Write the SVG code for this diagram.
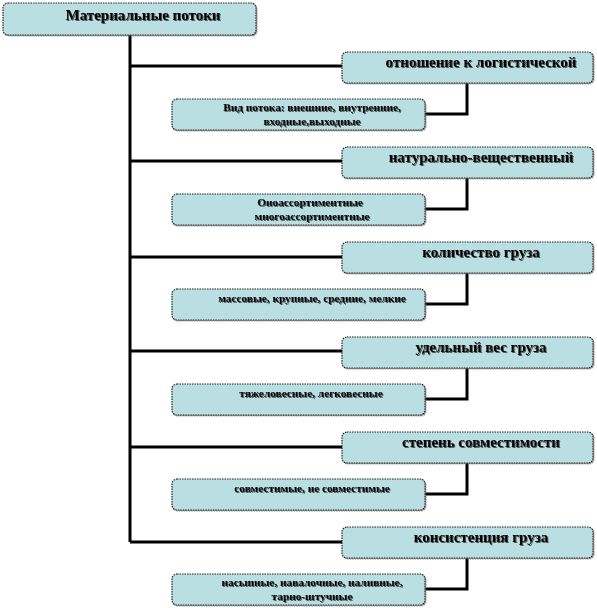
<svg xmlns="http://www.w3.org/2000/svg" width="597" height="608" viewBox="0 0 597 608">
<defs>
<filter id="ts" x="-5%" y="-20%" width="110%" height="140%">
<feDropShadow dx="1" dy="1" stdDeviation="0.6" flood-color="#444" flood-opacity="0.9"/>
</filter>
<filter id="bs" x="-5%" y="-10%" width="110%" height="130%">
<feDropShadow dx="1" dy="1" stdDeviation="0.5" flood-color="#666" flood-opacity="0.7"/>
</filter>
</defs>
<style>
.box{fill:#b9dfe2;stroke:#222;stroke-width:1.2;stroke-dasharray:1.5 1;filter:url(#bs)}
.c{fill:none;stroke:#000;stroke-width:3}
.t{font-family:"Liberation Serif","Times New Roman",serif;font-weight:bold;fill:#000;text-anchor:middle;filter:url(#ts)}
.h{font-size:15px}
.m{font-size:15px}
.s{font-size:11.3px}
</style>
<g id="connectors">
<path class="c" d="M130 35 V542"/>
<path class="c" d="M130 66 H342"/>
<path class="c" d="M130 161 H342"/>
<path class="c" d="M130 257 H342"/>
<path class="c" d="M130 351 H342"/>
<path class="c" d="M130 447 H342"/>
<path class="c" d="M130 542 H342"/>
<path class="c" d="M467 83 V114 H425"/>
<path class="c" d="M467 178 V209 H425"/>
<path class="c" d="M467 273 V304 H425"/>
<path class="c" d="M467 368 V399 H425"/>
<path class="c" d="M467 463 V494 H425"/>
<path class="c" d="M467 558 V589 H425"/>
</g>
<g id="root">
<rect class="box" x="3" y="3" width="253" height="32" rx="5"/>
<text class="t h" x="143" y="20">Материальные потоки</text>
</g>
<g id="n1">
<rect class="box" x="342" y="52" width="251" height="31" rx="5"/>
<text class="t m" x="481" y="67">отношение к логистической</text>
</g>
<g id="s1">
<rect class="box" x="172" y="99" width="253" height="31" rx="5"/>
<text class="t s" x="312" y="111">Вид потока: внешние, внутренние,</text>
<text class="t s" x="312" y="125">входные,выходные</text>
</g>
<g id="n2">
<rect class="box" x="342" y="147" width="251" height="31" rx="5"/>
<text class="t m" x="481" y="162">натурально-вещественный</text>
</g>
<g id="s2">
<rect class="box" x="172" y="194" width="253" height="31" rx="5"/>
<text class="t s" x="310" y="206">Оноассортиментные</text>
<text class="t s" x="312" y="220">многоассортиментные</text>
</g>
<g id="n3">
<rect class="box" x="342" y="242" width="251" height="31" rx="5"/>
<text class="t m" x="481" y="257">количество груза</text>
</g>
<g id="s3">
<rect class="box" x="172" y="289" width="253" height="31" rx="5"/>
<text class="t s" x="312" y="302">массовые,  крупные, средние, мелкие</text>
</g>
<g id="n4">
<rect class="box" x="342" y="337" width="251" height="31" rx="5"/>
<text class="t m" x="481" y="352">удельный вес груза</text>
</g>
<g id="s4">
<rect class="box" x="172" y="384" width="253" height="31" rx="5"/>
<text class="t s" x="311" y="397">тяжеловесные,  легковесные</text>
</g>
<g id="n5">
<rect class="box" x="342" y="432" width="251" height="31" rx="5"/>
<text class="t m" x="481" y="447">степень совместимости</text>
</g>
<g id="s5">
<rect class="box" x="172" y="479" width="253" height="31" rx="5"/>
<text class="t s" x="312" y="492">совместимые,  не совместимые</text>
</g>
<g id="n6">
<rect class="box" x="342" y="527" width="251" height="31" rx="5"/>
<text class="t m" x="481" y="542">консистенция груза</text>
</g>
<g id="s6">
<rect class="box" x="172" y="574" width="253" height="31" rx="5"/>
<text class="t s" x="312" y="586">насыпные, навалочные, наливные,</text>
<text class="t s" x="312" y="600">тарно-штучные</text>
</g>
</svg>
